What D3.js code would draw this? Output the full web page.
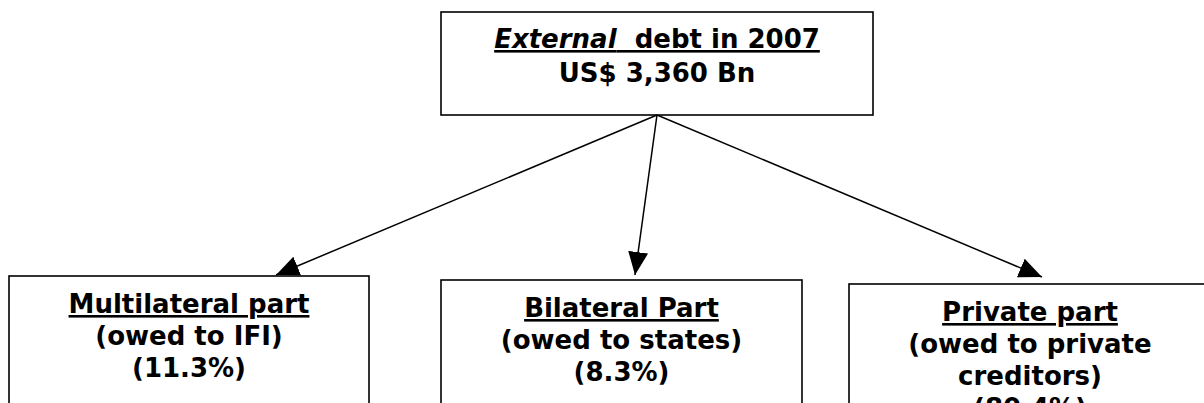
<!DOCTYPE html>
<html>
<head>
<meta charset="utf-8">
<script src="https://cdn.jsdelivr.net/npm/d3@7"></script>
<style>
  body { margin: 0; background: #fff; overflow: hidden; }
  text { font-family: Verdana, "DejaVu Sans", sans-serif; font-weight: bold; fill: #000; }
</style>
</head>
<body>
<svg id="svg1" width="1204" height="403"></svg>
<script>
// Top node
const rootTitle = 'debt in 2007';
const rootTitleItalic = 'External';
const rootTotal = 'US$ 3,360 Bn';

// Child nodes
const partNames = ['Multilateral part', 'Bilateral Part', 'Private part'];
const partCreditors = [['(owed to IFI)'], ['(owed to states)'], ['(owed to private', 'creditors)']];
const partShares = ['(11.3%)', '(8.3%)', '(80.4%)'];

const svg = d3.select('#svg1');

// arrowhead
svg.append('defs').append('marker')
    .attr('id', 'head')
    .attr('markerUnits', 'userSpaceOnUse')
    .attr('viewBox', '0 -11 24 22')
    .attr('refX', 23).attr('refY', 0)
    .attr('markerWidth', 24).attr('markerHeight', 22)
    .attr('orient', 'auto')
  .append('path')
    .attr('d', 'M0,-10L23,0L0,10Z')
    .attr('fill', '#000');

// layout of the boxes (left, top, width)
const root = { x: 441, y: 12, w: 432, h: 103 };
const kids = [
  { x: 9, y: 276, w: 360, tipX: 276, tipY: 275 },
  { x: 441, y: 280, w: 361, tipX: 635, tipY: 275 },
  { x: 849, y: 284, w: 362, tipX: 1042, tipY: 277 }
];
const fs = 26;
const lh = 32;

// root box
svg.append('rect')
    .attr('x', root.x).attr('y', root.y)
    .attr('width', root.w).attr('height', root.h)
    .attr('fill', 'none').attr('stroke', '#000').attr('stroke-width', 1.6);

const cx = root.x + root.w / 2;
const t1 = svg.append('text')
    .attr('x', cx).attr('y', 48)
    .attr('text-anchor', 'middle')
    .style('font-size', fs + 'px')
    .style('text-decoration', 'underline');
t1.append('tspan').style('font-style', 'italic').text(rootTitleItalic);
t1.append('tspan').text('\u00a0 ' + rootTitle);

svg.append('text')
    .attr('x', cx).attr('y', 82)
    .attr('text-anchor', 'middle')
    .style('font-size', fs + 'px')
    .text(rootTotal);

// arrows
const ox = 657, oy = root.y + root.h;
svg.selectAll('line.arrow').data(kids)
  .enter().append('line')
    .attr('class', 'arrow')
    .attr('x1', ox).attr('y1', oy)
    .attr('x2', d => d.tipX).attr('y2', d => d.tipY)
    .attr('stroke', '#000').attr('stroke-width', 1.5)
    .attr('marker-end', 'url(#head)');

// child boxes
const g = svg.selectAll('g.part').data(kids)
  .enter().append('g').attr('class', 'part');

g.append('rect')
    .attr('x', d => d.x).attr('y', d => d.y)
    .attr('width', d => d.w).attr('height', 200)
    .attr('fill', '#fff').attr('stroke', '#000').attr('stroke-width', 1.6);

g.each(function(d, i) {
  const lines = [partNames[i]].concat(partCreditors[i], [partShares[i]]);
  const mid = d.x + d.w / 2;
  d3.select(this).selectAll('text').data(lines)
    .enter().append('text')
      .attr('x', mid)
      .attr('y', (l, j) => d.y + 37 + j * lh)
      .attr('text-anchor', 'middle')
      .style('font-size', fs + 'px')
      .style('text-decoration', (l, j) => j === 0 ? 'underline' : null)
      .text(l => l);
});
</script>
</body>
</html>
